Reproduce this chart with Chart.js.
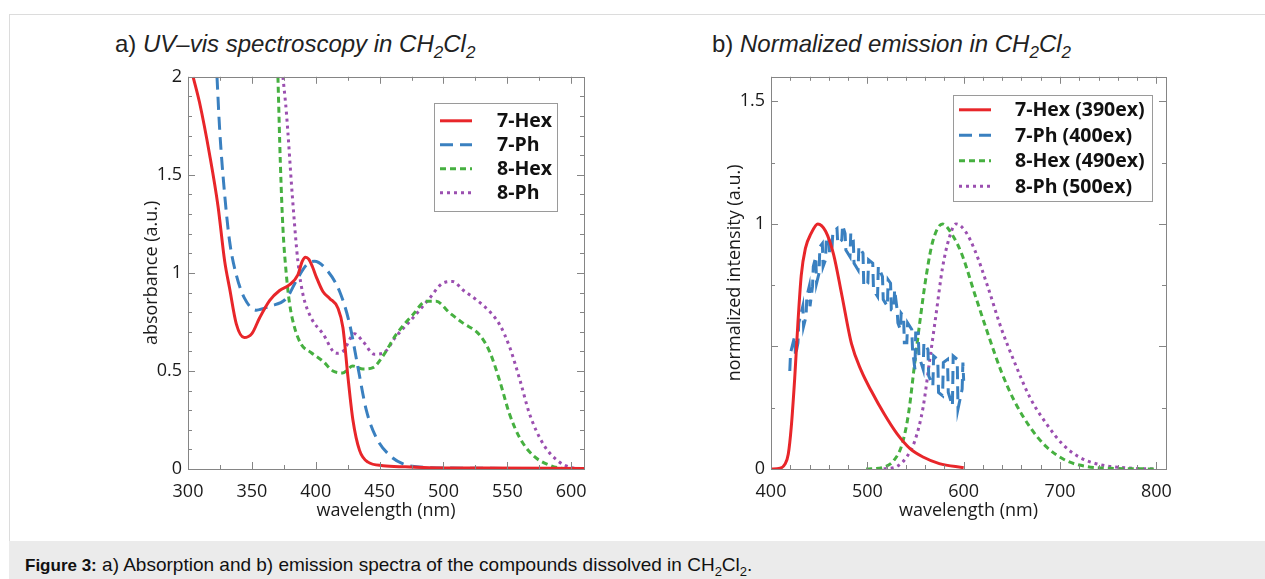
<!DOCTYPE html>
<html>
<head>
<meta charset="utf-8">
<script src="https://cdn.jsdelivr.net/npm/chart.js@4/dist/chart.umd.min.js"></script>
<style>
  body { margin: 0; background: #fff; width: 1265px; height: 579px; overflow: hidden; position: relative; font-family: "Liberation Sans", Arial, sans-serif; }
  #panel { position: absolute; left: 9px; top: 14px; width: 1270px; height: 580px; border: 1px solid #dcdcdc; box-sizing: border-box; }
  .title { position: absolute; font-size: 24px; color: #222; white-space: nowrap; line-height: 1; }
  .title i sub { font-size: 17px; }
  .wrap { position: absolute; width: 500px; height: 470px; top: 60px; }
  #caption { position: absolute; left: 9px; top: 541px; width: 1270px; height: 40px; background: #ebebeb; font-size: 19px; color: #111; }
  #caption span { position: absolute; left: 16px; top: 14px; white-space: nowrap; line-height: 1; }
  #caption b { font-size: 17px; }
  #caption sub { font-size: 13px; }
</style>
</head>
<body>
<div id="panel"></div>
<div class="title" style="left:115px; top:32px;">a) <i>UV–vis spectroscopy in CH<sub>2</sub>Cl<sub>2</sub></i></div>
<div class="title" style="left:712px; top:32px;">b) <i>Normalized emission in CH<sub>2</sub>Cl<sub>2</sub></i></div>
<div class="wrap" style="left:100px;"><canvas id="absChart"></canvas></div>
<div class="wrap" style="left:690px;"><canvas id="emChart"></canvas></div>
<div id="caption"><span><b>Figure 3:</b> a) Absorption and b) emission spectra of the compounds dissolved in CH<sub>2</sub>Cl<sub>2</sub>.</span></div>

<script>
// a) absorption spectra
const abs7HexX = [304, 309, 317, 323.5, 328.7, 332.6, 337.8, 344, 350, 356, 364, 371.7, 379.6, 386, 389.5, 392, 394.5, 397.5, 400.4, 405.6, 410.9, 417.4, 421.3, 425.2, 429.1, 434.3, 440.9, 452.6, 470, 489, 530, 610]
const abs7HexY = [2.0, 1.87, 1.60, 1.34, 1.06, 0.92, 0.74, 0.67, 0.69, 0.77, 0.86, 0.91, 0.94, 0.99, 1.06, 1.08, 1.07, 1.03, 0.98, 0.905, 0.87, 0.82, 0.72, 0.47, 0.25, 0.095, 0.035, 0.017, 0.011, 0.007, 0.005, 0.003]

const abs7PhX = [322.7, 324.8, 328.7, 332.6, 337.8, 344.3, 353.5, 364, 377, 384.8, 392.6, 399, 408, 418.7, 426.5, 433, 439.6, 447.4, 457.8, 468, 481, 520, 610]
const abs7PhY = [2.0, 1.73, 1.40, 1.16, 0.99, 0.87, 0.81, 0.83, 0.87, 0.96, 1.04, 1.06, 1.02, 0.905, 0.74, 0.52, 0.30, 0.16, 0.07, 0.027, 0.01, 0.004, 0.002]

const abs8HexX = [370.4, 372.3, 374.3, 377, 379.6, 383.5, 388.7, 396.5, 405.6, 413.5, 421, 429, 437, 444.8, 452.6, 463, 476, 486.5, 494.3, 504.8, 515, 528, 536, 544, 551.7, 559.6, 570, 583, 593.5, 610]
const abs8HexY = [2.0, 1.56, 1.23, 0.99, 0.84, 0.72, 0.635, 0.593, 0.55, 0.50, 0.49, 0.525, 0.51, 0.517, 0.576, 0.686, 0.787, 0.855, 0.855, 0.796, 0.745, 0.686, 0.60, 0.45, 0.28, 0.16, 0.07, 0.019, 0.003, 0]

const abs8PhX = [374.3, 377, 381.7, 386, 390, 396.5, 405.6, 416, 421.3, 430.4, 437, 446, 452.6, 463, 476, 489, 499.6, 507.4, 515, 525.7, 536, 544, 552, 560, 567.4, 578, 589, 600, 610]
const abs8PhY = [2.0, 1.82, 1.39, 1.06, 0.89, 0.77, 0.69, 0.59, 0.60, 0.69, 0.65, 0.585, 0.59, 0.677, 0.77, 0.87, 0.948, 0.956, 0.914, 0.863, 0.804, 0.736, 0.618, 0.45, 0.28, 0.128, 0.044, 0.007, 0]

// b) normalized emission spectra
const em7HexX = [400, 409.4, 414.5, 417.9, 421, 424.6, 428, 431.4, 435.7, 441.5, 448.6, 456.7, 465, 473.5, 483.6, 493.8, 503.9, 517.4, 530.9, 544.3, 557.8, 574.7, 600]
const em7HexY = [0, 0.003, 0.02, 0.06, 0.17, 0.37, 0.60, 0.79, 0.90, 0.96, 1.0, 0.97, 0.875, 0.71, 0.51, 0.40, 0.32, 0.225, 0.143, 0.083, 0.049, 0.022, 0.005]

// noisy trace, read as upper / lower swings of the band
const em7PhX = [419.5, 420.3, 424.6, 425.4, 428.0, 428.8, 433.0, 433.8, 436.4, 437.2, 439.7, 440.5, 443.1, 443.9, 446.5, 447.3, 449.9, 450.7, 453.3, 454.1, 456.6, 457.4, 460.0, 460.8, 463.4, 464.2, 468.5, 469.3, 473.5, 474.3, 476.9, 477.7, 482.0, 482.8, 485.4, 486.2, 490.4, 491.2, 495.5, 496.3, 500.5, 501.3, 505.6, 506.4, 510.6, 511.4, 515.7, 516.5, 520.8, 521.6, 524.1, 524.9, 527.5, 528.3, 530.9, 531.7, 534.3, 535.1, 537.6, 538.4, 541.0, 541.8, 546.1, 546.9, 549.4, 550.2, 552.8, 553.6, 557.9, 558.7, 562.9, 563.7, 568.0, 568.8, 573.1, 573.9, 578.1, 578.9, 583.2, 584.0, 588.3, 589.1, 593.3, 594.1, 598.4, 599.2, 600.0]
const em7PhY = [0.400, 0.474, 0.542, 0.461, 0.515, 0.596, 0.664, 0.582, 0.623, 0.704, 0.745, 0.664, 0.745, 0.826, 0.866, 0.758, 0.799, 0.907, 0.920, 0.826, 0.853, 0.934, 0.947, 0.880, 0.907, 0.968, 0.981, 0.920, 0.934, 0.995, 0.961, 0.893, 0.866, 0.961, 0.934, 0.839, 0.812, 0.907, 0.880, 0.745, 0.758, 0.853, 0.839, 0.731, 0.704, 0.826, 0.785, 0.691, 0.664, 0.772, 0.758, 0.650, 0.650, 0.731, 0.650, 0.596, 0.569, 0.636, 0.623, 0.515, 0.515, 0.596, 0.569, 0.488, 0.407, 0.555, 0.555, 0.461, 0.407, 0.515, 0.488, 0.380, 0.339, 0.461, 0.447, 0.312, 0.299, 0.434, 0.447, 0.312, 0.258, 0.461, 0.447, 0.245, 0.326, 0.434, 0.360]

const em8HexX = [498.8, 517.4, 527.5, 536, 542.7, 549.4, 554.5, 561.2, 568, 578, 588.2, 598.3, 611.8, 625.3, 638.8, 652.3, 669, 686, 706, 726.5, 753, 800]
const em8HexY = [0, 0.008, 0.035, 0.10, 0.225, 0.44, 0.60, 0.79, 0.93, 1.0, 0.955, 0.874, 0.71, 0.55, 0.40, 0.28, 0.17, 0.09, 0.035, 0.011, 0.003, 0]

const em8PhX = [517, 531, 541, 549.4, 557.8, 564.6, 571.3, 578, 584.8, 592, 601.7, 611.8, 625.3, 638.8, 652.3, 669, 686, 702.9, 719.7, 740, 767, 800]
const em8PhY = [0, 0.011, 0.05, 0.116, 0.25, 0.44, 0.63, 0.82, 0.94, 1.0, 0.97, 0.89, 0.74, 0.576, 0.44, 0.29, 0.184, 0.10, 0.049, 0.019, 0.005, 0]

// labels
const absLabels = ["7-Hex", "7-Ph", "8-Hex", "8-Ph"]
const emLabels = ["7-Hex (390ex)", "7-Ph (400ex)", "8-Hex (490ex)", "8-Ph (500ex)"]

// tick labels
const absXLabels = [300, 350, 400, 450, 500, 550, 600]
const absYLabels = [0, 0.5, 1, 1.5, 2]
const emXLabels = [400, 500, 600, 700, 800]
const emYLabels = [0, 1, 1.5]

// line looks (same order as labels)
const colors = ["#e8262a", "#3a80c0", "#46b040", "#9b4fb0"]
const dashes = [[], [13, 7], [6, 4], [3, 4]]

const toPoints = (xs, ys) => xs.map((x, i) => ({ x: x, y: ys[i] }))

const tickFont = { family: "'Open Sans', sans-serif", size: 18 }
const near = (list, v) => list.some(l => Math.abs(l - v) < 1e-6)

// Draw the frame, the inward ticks and the boxed legend
const frameLegend = {
  id: 'frameLegend',
  afterDatasetsDraw(chart, args, opts) {
    const { ctx, chartArea: a, scales: { x, y } } = chart
    ctx.save()
    ctx.strokeStyle = '#858585'
    ctx.lineWidth = 1
    ctx.setLineDash([])
    let seg = (x1, y1, x2, y2) => { ctx.beginPath(); ctx.moveTo(x1, y1); ctx.lineTo(x2, y2); ctx.stroke() }

    x.ticks.forEach(t => {
      let px = Math.round(x.getPixelForValue(t.value)) + 0.5
      let len = near(opts.xMajor, t.value) ? 7 : 4
      seg(px, a.bottom, px, a.bottom - len)
      seg(px, a.top, px, a.top + len)
    })
    y.ticks.forEach(t => {
      let py = Math.round(y.getPixelForValue(t.value)) + 0.5
      let len = near(opts.yMajor, t.value) ? 7 : 4
      seg(a.left, py, a.left + len, py)
      seg(a.right, py, a.right - len, py)
    })
    ctx.strokeRect(Math.round(a.left) + 0.5, Math.round(a.top) + 0.5, Math.round(a.width), Math.round(a.height))

    // legend box
    let bx = a.left + opts.box.x, by = a.top + opts.box.y
    ctx.fillStyle = '#fff'
    ctx.fillRect(bx, by, opts.box.w, opts.box.h)
    ctx.strokeStyle = '#9a9a9a'
    ctx.strokeRect(Math.round(bx) + 0.5, Math.round(by) + 0.5, opts.box.w, opts.box.h)
    ctx.font = "bold 19.5px 'Open Sans', sans-serif"
    ctx.textBaseline = 'middle'
    chart.data.datasets.forEach((ds, i) => {
      let ry = by + opts.box.row0 + i * opts.box.rowStep
      ctx.strokeStyle = ds.borderColor
      ctx.lineWidth = 3
      ctx.setLineDash(ds.borderDash)
      seg(bx + 6, ry, bx + 38, ry)
      ctx.setLineDash([])
      ctx.fillStyle = '#111'
      ctx.fillText(ds.label, bx + opts.box.textX, ry + 1)
    })
    ctx.restore()
  }
}

function makeDatasets(labels, series, smooth) {
  return series.map((pts, i) => ({
    label: labels[i],
    data: pts,
    borderColor: colors[i],
    borderDash: dashes[i],
    borderWidth: 3,
    pointRadius: 0,
    fill: false,
    cubicInterpolationMode: smooth[i] ? 'monotone' : 'default',
    tension: 0
  }))
}

function axis(min, max, step, labels, titleText, titlePad, fitSize, isY) {
  return {
    type: 'linear',
    min: min,
    max: max,
    afterBuildTicks: scale => {
      let ticks = []
      for (let v = min; v <= max + 1e-9; v += step) ticks.push({ value: Math.round(v * 1000) / 1000 })
      scale.ticks = ticks
    },
    afterFit: scale => {
      if (isY) scale.width = fitSize
      else scale.height = fitSize
    },
    grid: { display: false, drawTicks: false },
    border: { display: false },
    ticks: {
      autoSkip: false,
      maxRotation: 0,
      padding: isY ? 6 : 12,
      color: '#1a1a1a',
      font: tickFont,
      callback: v => near(labels, v) ? String(v) : ''
    },
    title: {
      display: true,
      text: titleText,
      color: '#1a1a1a',
      font: tickFont,
      padding: titlePad
    }
  }
}

new Chart('absChart', {
  type: 'line',
  data: {
    datasets: makeDatasets(absLabels, [
      toPoints(abs7HexX, abs7HexY),
      toPoints(abs7PhX, abs7PhY),
      toPoints(abs8HexX, abs8HexY),
      toPoints(abs8PhX, abs8PhY)
    ], [true, true, true, true])
  },
  options: {
    responsive: true,
    maintainAspectRatio: false,
    animation: false,
    layout: { padding: { top: 14, right: 16, left: 0, bottom: 0 } },
    plugins: {
      legend: { display: false },
      tooltip: { enabled: false },
      frameLegend: {
        xMajor: absXLabels, yMajor: absYLabels,
        box: { x: 246, y: 26, w: 123, h: 108, row0: 18, rowStep: 24, textX: 63 }
      }
    },
    scales: {
      x: axis(300, 610, 25, absXLabels, 'wavelength (nm)', { top: 0, bottom: 8 }, 61, false),
      y: axis(0, 2, 0.1, absYLabels, 'absorbance (a.u.)', { top: 41, bottom: 0 }, 88, true)
    }
  },
  plugins: [frameLegend]
})

new Chart('emChart', {
  type: 'line',
  data: {
    datasets: makeDatasets(emLabels, [
      toPoints(em7HexX, em7HexY),
      toPoints(em7PhX, em7PhY),
      toPoints(em8HexX, em8HexY),
      toPoints(em8PhX, em8PhY)
    ], [true, false, true, true])
  },
  options: {
    responsive: true,
    maintainAspectRatio: false,
    animation: false,
    layout: { padding: { top: 14, right: 24, left: 0, bottom: 0 } },
    plugins: {
      legend: { display: false },
      tooltip: { enabled: false },
      frameLegend: {
        xMajor: emXLabels, yMajor: [0, 0.5, 1, 1.5],
        box: { x: 182, y: 18, w: 199, h: 106, row0: 15, rowStep: 25.5, textX: 62 }
      }
    },
    scales: {
      x: axis(400, 810, 20, emXLabels, 'wavelength (nm)', { top: 0, bottom: 8 }, 61, false),
      y: axis(0, 1.6, 0.25, emYLabels, 'normalized intensity (a.u.)', { top: 34, bottom: 0 }, 81, true)
    }
  },
  plugins: [frameLegend]
})
</script>
</body>
</html>
